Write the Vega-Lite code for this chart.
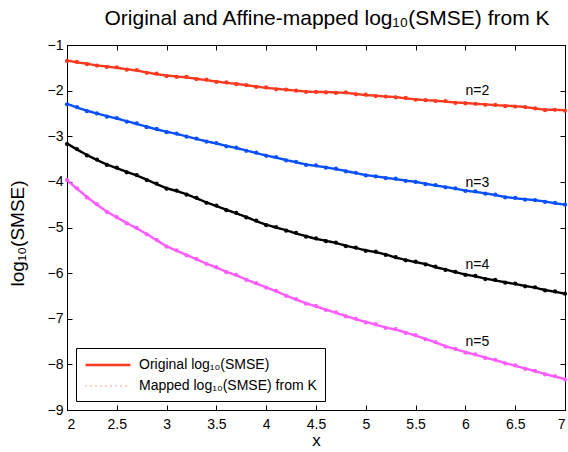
{
  "$schema": "https://vega.github.io/schema/vega-lite/v6.json",
  "width": 498,
  "height": 365,
  "autosize": {"type": "none"},
  "padding": {"left": 67, "top": 45, "right": 3, "bottom": 42},
  "background": "white",
  "title": {"text": "Original and Affine-mapped log₁₀(SMSE) from K", "fontSize": 21, "font": "Liberation Sans", "fontWeight": "normal", "color": "black", "offset": 9, "dx": 11},
  "config": {
    "view": {"stroke": "black", "strokeWidth": 1},
    "axis": {"domainColor": "black", "tickColor": "black", "labelColor": "black", "titleColor": "black", "labelFont": "Liberation Sans", "titleFont": "Liberation Sans", "labelFontSize": 14, "titleFontWeight": "normal", "grid": false, "tickSize": -5},
    "legend": {"orient": "bottom-left", "offset": 9, "strokeColor": "black", "strokeWidth": 1, "fillColor": "white", "padding": 8, "rowPadding": 6, "labelFontSize": 14, "labelFont": "Liberation Sans", "labelColor": "black", "labelLimit": 400, "symbolType": "M-3,0H3", "symbolSize": 225, "symbolOffset": 15, "labelOffset": 22, "symbolStrokeWidth": 2, "symbolStrokeColor": "#ff3a20"}
  },
  "datasets": {
    "curves": [
      {"n":2,"x":2.0,"o":-1.34,"m":-1.35},{"n":2,"x":2.1,"o":-1.38,"m":-1.37},{"n":2,"x":2.2,"o":-1.41,"m":-1.42},{"n":2,"x":2.3,"o":-1.45,"m":-1.45},{"n":2,"x":2.4,"o":-1.47,"m":-1.48},{"n":2,"x":2.5,"o":-1.50,"m":-1.49},{"n":2,"x":2.6,"o":-1.53,"m":-1.54},{"n":2,"x":2.7,"o":-1.56,"m":-1.55},{"n":2,"x":2.8,"o":-1.60,"m":-1.61},{"n":2,"x":2.9,"o":-1.64,"m":-1.63},
      {"n":2,"x":3.0,"o":-1.67,"m":-1.68},{"n":2,"x":3.1,"o":-1.69,"m":-1.70},{"n":2,"x":3.2,"o":-1.71,"m":-1.70},{"n":2,"x":3.3,"o":-1.74,"m":-1.75},{"n":2,"x":3.4,"o":-1.77,"m":-1.76},{"n":2,"x":3.5,"o":-1.80,"m":-1.81},{"n":2,"x":3.6,"o":-1.83,"m":-1.82},{"n":2,"x":3.7,"o":-1.85,"m":-1.86},{"n":2,"x":3.8,"o":-1.88,"m":-1.88},{"n":2,"x":3.9,"o":-1.91,"m":-1.92},
      {"n":2,"x":4.0,"o":-1.94,"m":-1.93},{"n":2,"x":4.1,"o":-1.96,"m":-1.97},{"n":2,"x":4.2,"o":-1.98,"m":-1.98},{"n":2,"x":4.3,"o":-2.00,"m":-2.00},{"n":2,"x":4.4,"o":-2.02,"m":-2.03},{"n":2,"x":4.5,"o":-2.03,"m":-2.03},{"n":2,"x":4.6,"o":-2.03,"m":-2.04},{"n":2,"x":4.7,"o":-2.04,"m":-2.05},{"n":2,"x":4.8,"o":-2.05,"m":-2.04},{"n":2,"x":4.9,"o":-2.07,"m":-2.08},
      {"n":2,"x":5.0,"o":-2.10,"m":-2.09},{"n":2,"x":5.1,"o":-2.11,"m":-2.12},{"n":2,"x":5.2,"o":-2.13,"m":-2.13},{"n":2,"x":5.3,"o":-2.14,"m":-2.15},{"n":2,"x":5.4,"o":-2.17,"m":-2.16},{"n":2,"x":5.5,"o":-2.19,"m":-2.20},{"n":2,"x":5.6,"o":-2.21,"m":-2.21},{"n":2,"x":5.7,"o":-2.22,"m":-2.23},{"n":2,"x":5.8,"o":-2.24,"m":-2.23},{"n":2,"x":5.9,"o":-2.26,"m":-2.27},
      {"n":2,"x":6.0,"o":-2.27,"m":-2.28},{"n":2,"x":6.1,"o":-2.29,"m":-2.29},{"n":2,"x":6.2,"o":-2.30,"m":-2.31},{"n":2,"x":6.3,"o":-2.32,"m":-2.31},{"n":2,"x":6.4,"o":-2.33,"m":-2.34},{"n":2,"x":6.5,"o":-2.34,"m":-2.35},{"n":2,"x":6.6,"o":-2.36,"m":-2.36},{"n":2,"x":6.7,"o":-2.39,"m":-2.39},{"n":2,"x":6.8,"o":-2.42,"m":-2.43},{"n":2,"x":6.9,"o":-2.42,"m":-2.42},{"n":2,"x":7.0,"o":-2.43,"m":-2.44},

      {"n":3,"x":2.0,"o":-2.29,"m":-2.30},{"n":3,"x":2.1,"o":-2.37,"m":-2.36},{"n":3,"x":2.2,"o":-2.44,"m":-2.45},{"n":3,"x":2.3,"o":-2.50,"m":-2.50},{"n":3,"x":2.4,"o":-2.56,"m":-2.57},{"n":3,"x":2.5,"o":-2.61,"m":-2.60},{"n":3,"x":2.6,"o":-2.67,"m":-2.68},{"n":3,"x":2.7,"o":-2.73,"m":-2.72},{"n":3,"x":2.8,"o":-2.79,"m":-2.80},{"n":3,"x":2.9,"o":-2.85,"m":-2.84},
      {"n":3,"x":3.0,"o":-2.90,"m":-2.91},{"n":3,"x":3.1,"o":-2.95,"m":-2.94},{"n":3,"x":3.2,"o":-3.00,"m":-3.01},{"n":3,"x":3.3,"o":-3.06,"m":-3.05},{"n":3,"x":3.4,"o":-3.11,"m":-3.12},{"n":3,"x":3.5,"o":-3.16,"m":-3.15},{"n":3,"x":3.6,"o":-3.21,"m":-3.22},{"n":3,"x":3.7,"o":-3.26,"m":-3.25},{"n":3,"x":3.8,"o":-3.31,"m":-3.32},{"n":3,"x":3.9,"o":-3.37,"m":-3.36},
      {"n":3,"x":4.0,"o":-3.42,"m":-3.43},{"n":3,"x":4.1,"o":-3.47,"m":-3.46},{"n":3,"x":4.2,"o":-3.52,"m":-3.53},{"n":3,"x":4.3,"o":-3.57,"m":-3.56},{"n":3,"x":4.4,"o":-3.62,"m":-3.63},{"n":3,"x":4.5,"o":-3.65,"m":-3.64},{"n":3,"x":4.6,"o":-3.68,"m":-3.69},{"n":3,"x":4.7,"o":-3.72,"m":-3.71},{"n":3,"x":4.8,"o":-3.76,"m":-3.77},{"n":3,"x":4.9,"o":-3.81,"m":-3.80},
      {"n":3,"x":5.0,"o":-3.85,"m":-3.86},{"n":3,"x":5.1,"o":-3.88,"m":-3.88},{"n":3,"x":5.2,"o":-3.91,"m":-3.92},{"n":3,"x":5.3,"o":-3.94,"m":-3.93},{"n":3,"x":5.4,"o":-3.97,"m":-3.98},{"n":3,"x":5.5,"o":-4.00,"m":-4.00},{"n":3,"x":5.6,"o":-4.04,"m":-4.05},{"n":3,"x":5.7,"o":-4.08,"m":-4.07},{"n":3,"x":5.8,"o":-4.11,"m":-4.12},{"n":3,"x":5.9,"o":-4.15,"m":-4.14},
      {"n":3,"x":6.0,"o":-4.19,"m":-4.20},{"n":3,"x":6.1,"o":-4.22,"m":-4.21},{"n":3,"x":6.2,"o":-4.25,"m":-4.26},{"n":3,"x":6.3,"o":-4.29,"m":-4.28},{"n":3,"x":6.4,"o":-4.33,"m":-4.34},{"n":3,"x":6.5,"o":-4.36,"m":-4.35},{"n":3,"x":6.6,"o":-4.38,"m":-4.39},{"n":3,"x":6.7,"o":-4.40,"m":-4.40},{"n":3,"x":6.8,"o":-4.43,"m":-4.44},{"n":3,"x":6.9,"o":-4.47,"m":-4.46},{"n":3,"x":7.0,"o":-4.50,"m":-4.50},

      {"n":4,"x":2.0,"o":-3.16,"m":-3.17},{"n":4,"x":2.1,"o":-3.29,"m":-3.28},{"n":4,"x":2.2,"o":-3.41,"m":-3.42},{"n":4,"x":2.3,"o":-3.52,"m":-3.51},{"n":4,"x":2.4,"o":-3.62,"m":-3.63},{"n":4,"x":2.5,"o":-3.70,"m":-3.69},{"n":4,"x":2.6,"o":-3.78,"m":-3.79},{"n":4,"x":2.7,"o":-3.86,"m":-3.85},{"n":4,"x":2.8,"o":-3.95,"m":-3.96},{"n":4,"x":2.9,"o":-4.05,"m":-4.04},
      {"n":4,"x":3.0,"o":-4.14,"m":-4.15},{"n":4,"x":3.1,"o":-4.20,"m":-4.19},{"n":4,"x":3.2,"o":-4.27,"m":-4.28},{"n":4,"x":3.3,"o":-4.36,"m":-4.35},{"n":4,"x":3.4,"o":-4.45,"m":-4.46},{"n":4,"x":3.5,"o":-4.53,"m":-4.52},{"n":4,"x":3.6,"o":-4.61,"m":-4.62},{"n":4,"x":3.7,"o":-4.69,"m":-4.68},{"n":4,"x":3.8,"o":-4.77,"m":-4.78},{"n":4,"x":3.9,"o":-4.86,"m":-4.85},
      {"n":4,"x":4.0,"o":-4.94,"m":-4.95},{"n":4,"x":4.1,"o":-5.00,"m":-4.99},{"n":4,"x":4.2,"o":-5.06,"m":-5.07},{"n":4,"x":4.3,"o":-5.13,"m":-5.12},{"n":4,"x":4.4,"o":-5.19,"m":-5.20},{"n":4,"x":4.5,"o":-5.25,"m":-5.24},{"n":4,"x":4.6,"o":-5.29,"m":-5.30},{"n":4,"x":4.7,"o":-5.34,"m":-5.33},{"n":4,"x":4.8,"o":-5.40,"m":-5.41},{"n":4,"x":4.9,"o":-5.45,"m":-5.44},
      {"n":4,"x":5.0,"o":-5.50,"m":-5.51},{"n":4,"x":5.1,"o":-5.54,"m":-5.53},{"n":4,"x":5.2,"o":-5.59,"m":-5.60},{"n":4,"x":5.3,"o":-5.66,"m":-5.65},{"n":4,"x":5.4,"o":-5.71,"m":-5.72},{"n":4,"x":5.5,"o":-5.76,"m":-5.75},{"n":4,"x":5.6,"o":-5.80,"m":-5.81},{"n":4,"x":5.7,"o":-5.87,"m":-5.86},{"n":4,"x":5.8,"o":-5.92,"m":-5.93},{"n":4,"x":5.9,"o":-5.98,"m":-5.97},
      {"n":4,"x":6.0,"o":-6.03,"m":-6.04},{"n":4,"x":6.1,"o":-6.07,"m":-6.06},{"n":4,"x":6.2,"o":-6.12,"m":-6.13},{"n":4,"x":6.3,"o":-6.16,"m":-6.15},{"n":4,"x":6.4,"o":-6.20,"m":-6.21},{"n":4,"x":6.5,"o":-6.24,"m":-6.23},{"n":4,"x":6.6,"o":-6.28,"m":-6.29},{"n":4,"x":6.7,"o":-6.32,"m":-6.31},{"n":4,"x":6.8,"o":-6.37,"m":-6.38},{"n":4,"x":6.9,"o":-6.41,"m":-6.40},{"n":4,"x":7.0,"o":-6.45,"m":-6.45},

      {"n":5,"x":2.0,"o":-3.96,"m":-3.96},{"n":5,"x":2.1,"o":-4.15,"m":-4.14},{"n":5,"x":2.2,"o":-4.33,"m":-4.34},{"n":5,"x":2.3,"o":-4.50,"m":-4.49},{"n":5,"x":2.4,"o":-4.65,"m":-4.66},{"n":5,"x":2.5,"o":-4.78,"m":-4.77},{"n":5,"x":2.6,"o":-4.90,"m":-4.91},{"n":5,"x":2.7,"o":-5.02,"m":-5.01},{"n":5,"x":2.8,"o":-5.14,"m":-5.15},{"n":5,"x":2.9,"o":-5.28,"m":-5.27},
      {"n":5,"x":3.0,"o":-5.41,"m":-5.42},{"n":5,"x":3.1,"o":-5.51,"m":-5.50},{"n":5,"x":3.2,"o":-5.60,"m":-5.61},{"n":5,"x":3.3,"o":-5.70,"m":-5.69},{"n":5,"x":3.4,"o":-5.79,"m":-5.80},{"n":5,"x":3.5,"o":-5.88,"m":-5.87},{"n":5,"x":3.6,"o":-5.97,"m":-5.98},{"n":5,"x":3.7,"o":-6.05,"m":-6.04},{"n":5,"x":3.8,"o":-6.14,"m":-6.15},{"n":5,"x":3.9,"o":-6.23,"m":-6.22},
      {"n":5,"x":4.0,"o":-6.31,"m":-6.32},{"n":5,"x":4.1,"o":-6.40,"m":-6.39},{"n":5,"x":4.2,"o":-6.49,"m":-6.50},{"n":5,"x":4.3,"o":-6.58,"m":-6.57},{"n":5,"x":4.4,"o":-6.66,"m":-6.67},{"n":5,"x":4.5,"o":-6.73,"m":-6.72},{"n":5,"x":4.6,"o":-6.80,"m":-6.81},{"n":5,"x":4.7,"o":-6.87,"m":-6.86},{"n":5,"x":4.8,"o":-6.94,"m":-6.95},{"n":5,"x":4.9,"o":-7.01,"m":-7.00},
      {"n":5,"x":5.0,"o":-7.07,"m":-7.08},{"n":5,"x":5.1,"o":-7.13,"m":-7.12},{"n":5,"x":5.2,"o":-7.19,"m":-7.20},{"n":5,"x":5.3,"o":-7.24,"m":-7.23},{"n":5,"x":5.4,"o":-7.30,"m":-7.31},{"n":5,"x":5.5,"o":-7.37,"m":-7.36},{"n":5,"x":5.6,"o":-7.44,"m":-7.45},{"n":5,"x":5.7,"o":-7.52,"m":-7.51},{"n":5,"x":5.8,"o":-7.60,"m":-7.61},{"n":5,"x":5.9,"o":-7.67,"m":-7.66},
      {"n":5,"x":6.0,"o":-7.73,"m":-7.74},{"n":5,"x":6.1,"o":-7.79,"m":-7.78},{"n":5,"x":6.2,"o":-7.85,"m":-7.86},{"n":5,"x":6.3,"o":-7.91,"m":-7.90},{"n":5,"x":6.4,"o":-7.97,"m":-7.98},{"n":5,"x":6.5,"o":-8.03,"m":-8.02},{"n":5,"x":6.6,"o":-8.09,"m":-8.10},{"n":5,"x":6.7,"o":-8.15,"m":-8.14},{"n":5,"x":6.8,"o":-8.21,"m":-8.22},{"n":5,"x":6.9,"o":-8.27,"m":-8.26},{"n":5,"x":7.0,"o":-8.32,"m":-8.33}
    ],
    "labels": [
      {"x":6.12,"y":-2.01,"t":"n=2"},
      {"x":6.12,"y":-4.02,"t":"n=3"},
      {"x":6.12,"y":-5.83,"t":"n=4"},
      {"x":6.12,"y":-7.51,"t":"n=5"}
    ]
  },
  "layer": [
    {
      "data": {"name": "curves"},
      "transform": [{"fold": ["o", "m"], "as": ["kind", "v"]}],
      "mark": {"type": "line"},
      "encoding": {
        "x": {"field": "x", "type": "quantitative", "scale": {"domain": [2, 7], "nice": false, "zero": false}, "axis": {"orient": "bottom", "values": [2, 2.5, 3, 3.5, 4, 4.5, 5, 5.5, 6, 6.5, 7], "format": "~g", "labelPadding": 12, "title": "x", "titleFontSize": 17, "titlePadding": 1}},
        "y": {"field": "v", "type": "quantitative", "scale": {"domain": [-9, -1], "nice": false, "zero": false}, "axis": {"orient": "left", "values": [-1, -2, -3, -4, -5, -6, -7, -8, -9], "labelPadding": 9, "title": "log₁₀(SMSE)", "titleFontSize": 19, "titleAlign": "center", "titleX": -40, "titleY": 188}},
        "color": {"field": "n", "type": "nominal", "scale": {"domain": [2, 3, 4, 5], "range": ["#ff3a20", "#0a50ff", "#000000", "#ff5cff"]}, "legend": null},
        "detail": {"field": "kind"},
        "strokeDash": {"field": "kind", "type": "nominal", "scale": {"domain": ["o", "m"], "range": [[1, 0], [1, 4]]}, "legend": {"title": null, "labelExpr": "datum.value == 'o' ? 'Original log₁₀(SMSE)' : 'Mapped log₁₀(SMSE) from K'"}},
        "strokeWidth": {"field": "kind", "type": "nominal", "scale": {"domain": ["o", "m"], "range": [2.4, 1]}, "legend": null}
      }
    },
    {
      "data": {"name": "curves"},
      "mark": {"type": "point", "filled": true, "size": 18, "opacity": 1},
      "encoding": {
        "x": {"field": "x", "type": "quantitative", "axis": null},
        "y": {"field": "m", "type": "quantitative", "axis": null},
        "color": {"field": "n", "type": "nominal", "legend": null}
      }
    },
    {
      "data": {"name": "labels"},
      "mark": {"type": "text", "fontSize": 14, "font": "Liberation Sans", "color": "black", "align": "center", "baseline": "middle"},
      "encoding": {
        "x": {"field": "x", "type": "quantitative", "axis": {"orient": "top", "values": [2, 2.5, 3, 3.5, 4, 4.5, 5, 5.5, 6, 6.5, 7], "labels": false, "title": null}},
        "y": {"field": "y", "type": "quantitative", "axis": {"orient": "right", "values": [-1, -2, -3, -4, -5, -6, -7, -8, -9], "labels": false, "title": null}},
        "text": {"field": "t"}
      }
    }
  ],
  "resolve": {"axis": {"x": "independent", "y": "independent"}}
}
